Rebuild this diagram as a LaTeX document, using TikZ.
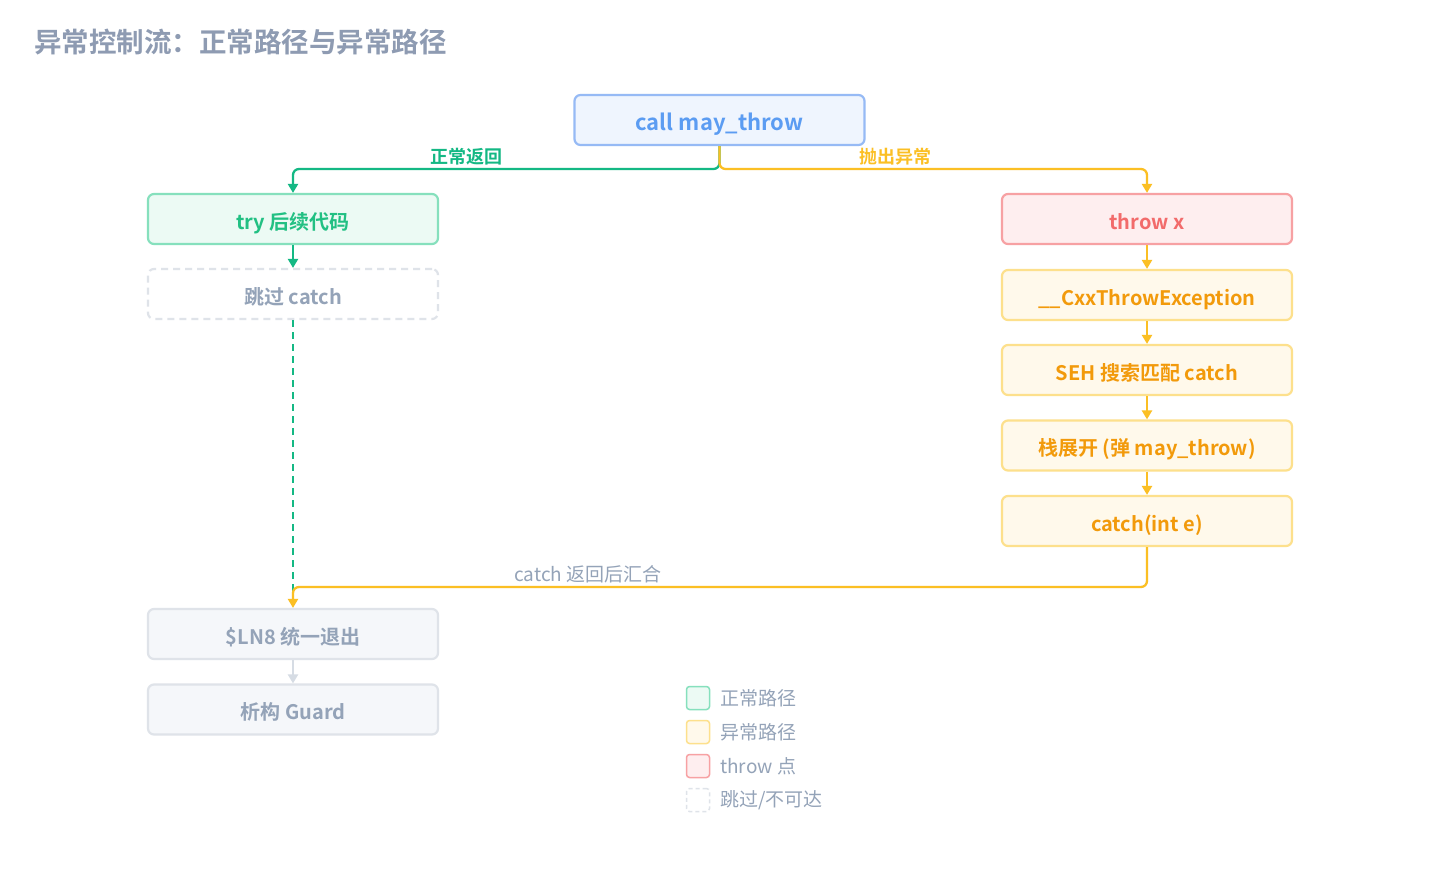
\documentclass[tikz,border=0pt]{standalone}
\usepackage{fontspec}
\setmainfont{Noto Sans CJK SC}
\newfontfamily\cjkb{Noto Sans CJK SC Bold}
\usetikzlibrary{arrows.meta,calc}
\definecolor{blueT}{HTML}{5B9CF2}
\definecolor{blueB}{HTML}{96BAF5}
\definecolor{blueF}{HTML}{EFF5FE}
\definecolor{greenL}{HTML}{14B884}
\definecolor{greenT}{HTML}{22C083}
\definecolor{greenB}{HTML}{86E0BD}
\definecolor{greenF}{HTML}{ECFAF4}
\definecolor{redT}{HTML}{F26B6B}
\definecolor{redB}{HTML}{F7A1A3}
\definecolor{redF}{HTML}{FEEEEF}
\definecolor{yelT}{HTML}{F29A0B}
\definecolor{yelB}{HTML}{FDE08C}
\definecolor{yelF}{HTML}{FFF9EB}
\definecolor{yelL}{HTML}{FBBF24}
\definecolor{grayT}{HTML}{94A3B8}
\definecolor{grayB}{HTML}{DFE3E9}
\definecolor{grayF}{HTML}{F5F7FA}
\definecolor{grayA}{HTML}{D6DCE4}
\definecolor{titleC}{HTML}{8E9BB2}
\tikzset{
  box/.style={rectangle, rounded corners=6pt, line width=2.2pt, minimum width=290pt, minimum height=50pt, inner sep=0pt, text height=22pt, text depth=2pt, font=\cjkb\fontsize{20}{24}\selectfont},
  bluebox/.style={box, draw=blueB, fill=blueF, text=blueT, font=\cjkb\fontsize{22}{26}\selectfont},
  greenbox/.style={box, draw=greenB, fill=greenF, text=greenT},
  redbox/.style={box, draw=redB, fill=redF, text=redT},
  yelbox/.style={box, draw=yelB, fill=yelF, text=yelT},
  skipbox/.style={box, draw=grayB, dashed, dash pattern=on 7pt off 5pt, fill=white, text=grayT},
  graybox/.style={box, draw=grayB, fill=grayF, text=grayT},
  tip/.style={-{Triangle[width=10pt,length=9pt]}},
  gline/.style={line width=2.3pt, draw=greenL, rounded corners=6pt},
  yline/.style={line width=2.3pt, draw=yelL, rounded corners=6pt},
  elabel/.style={font=\cjkb\fontsize{18}{20}\selectfont, inner sep=1pt},
  leg/.style={rectangle, rounded corners=3pt, line width=1.5pt, minimum size=23pt, inner sep=0pt},
  legtext/.style={anchor=west, text=grayT, font=\fontsize{19}{22}\selectfont, inner sep=0pt},
}
\begin{document}
\begin{tikzpicture}[x=1pt,y=-1pt]
\useasboundingbox[fill=white] (0,0) rectangle (1440,891);
\node[anchor=west, text=titleC, font=\cjkb\fontsize{27.5}{30}\selectfont, inner sep=0pt] (title) at (34,42) {异常控制流：正常路径与异常路径};

\node[bluebox] (call) at (719.5,120) {call may\_throw};
\node[greenbox] (try) at (293,219) {try 后续代码};
\node[skipbox] (skip) at (293,294) {跳过 catch};
\node[redbox] (throw) at (1147,219) {throw x};
\node[yelbox] (cxx) at (1147,295) {\_\_CxxThrowException};
\node[yelbox] (seh) at (1147,370) {SEH 搜索匹配 catch};
\node[yelbox] (unw) at (1147,445.5) {栈展开 (弹 may\_throw)};
\node[yelbox] (cat) at (1147,521) {catch(int e)};
\node[graybox] (ln8) at (293,634) {\$LN8 统一退出};
\node[graybox] (guard) at (293,709.5) {析构 Guard};

\coordinate (sp) at (719.5,169);
\coordinate (dj) at (293,598);
\coordinate (mj) at (1147,587);

\draw[gline, tip] (call.south) -- (sp) -| (try.north);
\draw[yline, tip] (call.south) -- (sp) -| (throw.north);
\node[elabel, text=greenL] (lnormal) at (466,157) {正常返回};
\node[elabel, text=yelL] (lthrow) at (895,157) {抛出异常};

\draw[gline, tip] (try) -- (skip);
\draw[gline, line width=2.6pt, dashed, dash pattern=on 7pt off 5pt] (skip.south) -- (dj);

\draw[yline, tip] (throw) -- (cxx);
\draw[yline, tip] (cxx) -- (seh);
\draw[yline, tip] (seh) -- (unw);
\draw[yline, tip] (unw) -- (cat);
\draw[yline, tip] (cat.south) -- (mj) -| (ln8.north);
\node[text=grayT, font=\fontsize{19}{22}\selectfont, inner sep=1pt] (lmerge) at (588,574) {catch 返回后汇合};

\draw[line width=2.3pt, draw=grayA, tip] (ln8) -- (guard);

\node[leg, draw=greenB, fill=greenF] (k1) at (698,698) {};
\node[leg, draw=yelB, fill=yelF] (k2) at (698,732) {};
\node[leg, draw=redB, fill=redF] (k3) at (698,766) {};
\node[leg, draw=grayB, dashed, dash pattern=on 4pt off 3pt, fill=white] (k4) at (698,800) {};
\node[legtext] (t1) at (720,698) {正常路径};
\node[legtext] (t2) at (720,732) {异常路径};
\node[legtext] (t3) at (720,766) {throw 点};
\node[legtext] (t4) at (720,800) {跳过/不可达};
\end{tikzpicture}
\end{document}
